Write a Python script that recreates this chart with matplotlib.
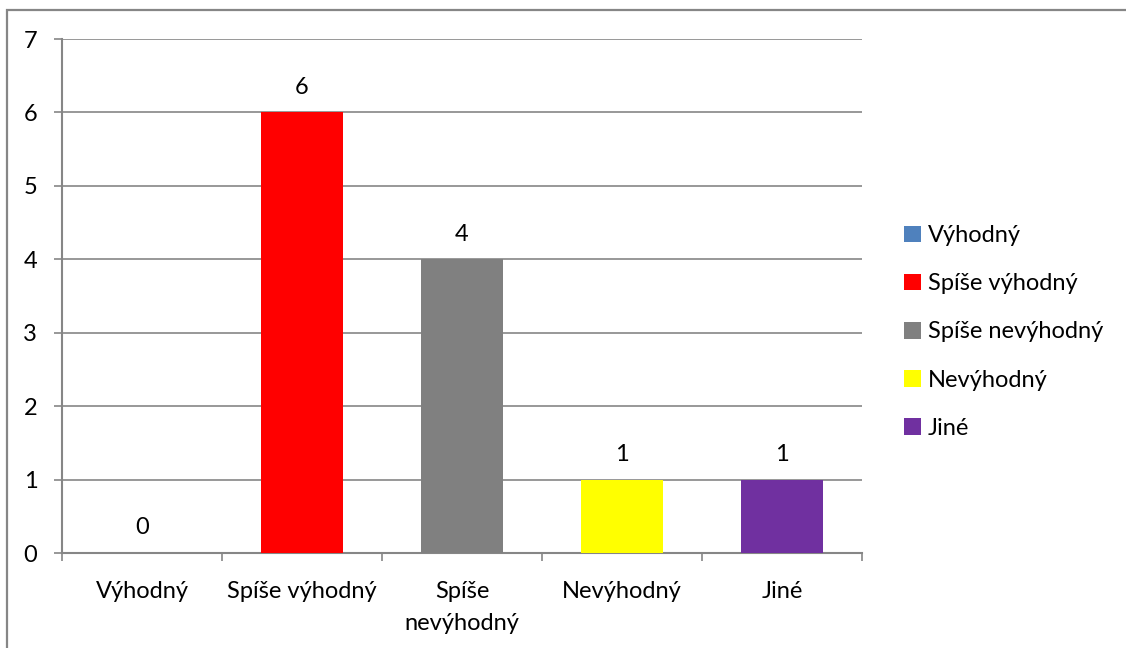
import matplotlib
matplotlib.use("Agg")
import matplotlib.pyplot as plt
from matplotlib.patches import Rectangle
import numpy as np

categories = ["Výhodný", "Spíše výhodný", "Spíše nevýhodný", "Nevýhodný", "Jiné"]
tick_labels = ["Výhodný", "Spíše výhodný", "Spíše\nnevýhodný", "Nevýhodný", "Jiné"]
values = [0, 6, 4, 1, 1]
colors = ["#4F81BD", "#FF0000", "#808080", "#FFFF00", "#7030A0"]

plt.rcParams["font.family"] = ["Lato", "DejaVu Sans"]
FS = 17
GRID = "#868686"

fig = plt.figure(figsize=(11.26, 6.48), dpi=100)
ax = fig.add_axes([62 / 1126, 95 / 648, 800 / 1126, 514 / 648])

x = np.arange(len(categories))
bars = []
for i, (v, c, lab) in enumerate(zip(values, colors, categories)):
    b = ax.bar(x[i], v, width=0.51, color=c, label=lab, zorder=3)
    bars.append(b)
    ax.annotate(str(v), (x[i], v), xytext=(0, 13.5), textcoords="offset points",
                ha="center", va="baseline", fontsize=FS, color="black")

ax.set_xlim(-0.5, len(categories) - 0.5)
ax.set_ylim(0, 7)
ax.set_yticks(range(0, 8))
ax.yaxis.grid(True, color=GRID, linewidth=1.2, zorder=0)
ax.set_axisbelow(True)

# category ticks at the boundaries, labels centred under the bars
ax.set_xticks(np.arange(-0.5, len(categories), 1.0))
ax.set_xticklabels([])
ax.set_xticks(x, minor=True)
ax.set_xticklabels(tick_labels, minor=True, fontsize=FS, linespacing=1.65)
ax.tick_params(axis="x", which="minor", length=0, pad=20)
ax.tick_params(axis="x", which="major", length=5.5, width=1.2, color=GRID, direction="out")
ax.tick_params(axis="y", length=5.8, width=1.2, color=GRID, pad=12, labelsize=FS)

for s in ["top", "right"]:
    ax.spines[s].set_visible(False)
for s in ["left", "bottom"]:
    ax.spines[s].set_color(GRID)
    ax.spines[s].set_linewidth(1.5)

leg = fig.legend(handles=[b[0] for b in bars], labels=categories,
                 loc="center left", bbox_to_anchor=(883 / 1126, 316 / 648),
                 frameon=False, fontsize=FS, handlelength=0.7, handleheight=0.7,
                 handletextpad=0.3, labelspacing=1.15)

# outer chart frame
fig.patches.append(Rectangle((7 / 1126, -0.1), 1.2, 1.1 - 10 / 648,
                             transform=fig.transFigure, fill=False,
                             edgecolor=GRID, linewidth=1.6))

fig.savefig("out.png", dpi=100, facecolor="white")
